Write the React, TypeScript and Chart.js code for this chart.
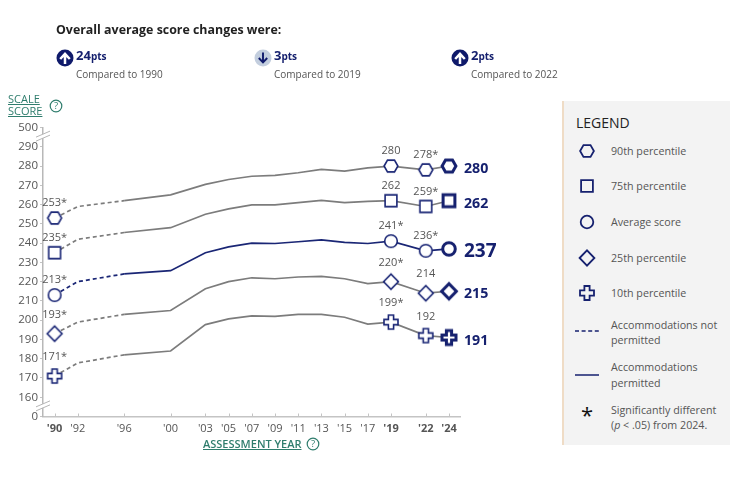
import React, { useEffect, useRef } from "react";
import { Chart, registerables } from "chart.js";

Chart.register(...registerables);

const years = [1990, 1992, 1996, 2000, 2003, 2005, 2007, 2009, 2011, 2013, 2015, 2017, 2019, 2022, 2024];
const yearLabels = ["'90", "'92", "'96", "'00", "'03", "'05", "'07", "'09", "'11", "'13", "'15", "'17", "'19", "'22", "'24"];
const boldYears = [1990, 2019, 2022, 2024];
const markedYears = [1990, 2019, 2022, 2024];

const p90 = [253, 259, 262, 265, 270.5, 273, 274.7, 275.2, 276.5, 278.3, 277.4, 279, 280, 278, 280];
const p75 = [235, 242, 245.5, 248, 255, 257.8, 259.8, 259.8, 261, 262.2, 261, 261.7, 262, 259, 262];
const avg = [213, 220, 224, 225.7, 235, 238, 240, 239.8, 240.7, 241.7, 240.4, 239.8, 241, 236, 237];
const p25 = [193, 199, 203, 205, 216.3, 220, 222, 221.5, 222.4, 222.7, 221.5, 219, 220, 214, 215];
const p10 = [171, 177.8, 182, 184, 197.7, 200.7, 202.2, 202, 203, 203, 201.5, 198, 199, 192, 191];

const labels90 = ["253*", "280", "278*", "280"];
const labels75 = ["235*", "262", "259*", "262"];
const labelsAvg = ["213*", "241*", "236*", "237"];
const labels25 = ["193*", "220*", "214", "215"];
const labels10 = ["171*", "199*", "192", "191"];

const yTickValues = [150, 160, 170, 180, 190, 200, 210, 220, 230, 240, 250, 260, 270, 280, 290, 300];
const yAxisBottomLabel = "0";
const yAxisTopLabel = "500";

const NAVY = "#16216f";
const GREY_LINE = "#7c7c7c";
const AVG_LINE = "#1a2675";
const TEXT = "#555555";
const AXIS = "#c4c4c4";
const GREEN = "#2f7d6d";

const HEX = "M-6.9 0L-3.5 -5.9L3.5 -5.9L6.9 0L3.5 5.9L-3.5 5.9Z";
const SQUARE = "M-5.9 -5.9H5.9V5.9H-5.9Z";
const CIRCLE = "M-6.3 0A6.3 6.3 0 1 1 6.3 0A6.3 6.3 0 1 1 -6.3 0Z";
const DIAMOND = "M-7.4 0L0 -7.6L7.4 0L0 7.6Z";
const PLUS = "M-2.6 -7H2.6V-2.6H7V2.6H2.6V7H-2.6V2.6H-7V-2.6H-2.6Z";

function markerImage(d: string, lineWidth: number, color: string) {
  const c = document.createElement("canvas");
  c.width = 26;
  c.height = 26;
  const g = c.getContext("2d")!;
  g.translate(13, 13);
  const p = new Path2D(d);
  g.fillStyle = "#ffffff";
  g.fill(p);
  g.strokeStyle = color;
  g.lineWidth = lineWidth;
  g.lineJoin = "miter";
  g.stroke(p);
  return c;
}

const seriesDefs = [
  { name: "90th percentile", values: p90, labels: labels90, path: HEX, color: GREY_LINE, above: 15, emph: 14.2 },
  { name: "75th percentile", values: p75, labels: labels75, path: SQUARE, color: GREY_LINE, above: 15, emph: 14.2 },
  { name: "Average score", values: avg, labels: labelsAvg, path: CIRCLE, color: AVG_LINE, above: 15, emph: 19 },
  { name: "25th percentile", values: p25, labels: labels25, path: DIAMOND, color: GREY_LINE, above: 19, emph: 14.2 },
  { name: "10th percentile", values: p10, labels: labels10, path: PLUS, color: GREY_LINE, above: 19, emph: 14.2 },
];

const FONT = '"Open Sans", sans-serif';

const annotate = {
  id: "annotate",
  afterDatasetsDraw(chart: any) {
    const { ctx, scales } = chart;
    const x = scales.x;
    const y = scales.y;
    ctx.save();
    ctx.textAlign = "center";
    ctx.textBaseline = "middle";
    seriesDefs.forEach((s) => {
      markedYears.forEach((yr, i) => {
        const px = x.getPixelForValue(yr);
        const py = y.getPixelForValue(s.values[years.indexOf(yr)]);
        if (yr === 2024) {
          ctx.font = `700 ${s.emph}px ${FONT}`;
          ctx.fillStyle = NAVY;
          ctx.textAlign = "left";
          ctx.fillText(s.labels[i], px + 15, py + 3);
          ctx.textAlign = "center";
        } else {
          ctx.font = `400 11px ${FONT}`;
          ctx.fillStyle = TEXT;
          ctx.fillText(s.labels[i], px, py - s.above);
        }
      });
    });
    ctx.restore();
  },
  afterDraw(chart: any) {
    const { ctx, scales } = chart;
    const y = scales.y;
    const x = y.right;
    const breaks = [(y.getPixelForValue(300) + y.getPixelForValue(290)) / 2 - 1, (y.getPixelForValue(160) + y.getPixelForValue(150)) / 2 - 1];
    ctx.save();
    breaks.forEach((b) => {
      ctx.fillStyle = "#ffffff";
      ctx.fillRect(x - 2, b - 2, 4, 4);
      ctx.strokeStyle = "#b5b5b5";
      ctx.lineWidth = 1;
      [-2, 2].forEach((o) => {
        ctx.beginPath();
        ctx.moveTo(x - 7, b + o + 3);
        ctx.lineTo(x + 7, b + o - 3);
        ctx.stroke();
      });
    });
    // short upward tick marks on the year axis
    const xs = scales.x;
    ctx.strokeStyle = AXIS;
    ctx.lineWidth = 1;
    years.forEach((yr) => {
      const px = Math.round(xs.getPixelForValue(yr)) + 0.5;
      ctx.beginPath();
      ctx.moveTo(px, xs.top);
      ctx.lineTo(px, xs.top - 3);
      ctx.stroke();
    });
    ctx.restore();
  },
};

function Help({ x, y }: { x: number; y: number }) {
  return (
    <svg width={14} height={14} viewBox="0 0 14 14" style={{ position: "absolute", left: x - 7, top: y - 7 }}>
      <circle cx={7} cy={7} r={5.8} fill="none" stroke={GREEN} strokeWidth={1.2} />
      <text x={7} y={10.2} textAnchor="middle" fontSize={9.5} fontFamily={FONT} fill={GREEN}>?</text>
    </svg>
  );
}

function Label({ x, y, size, color, weight, children, extra }: any) {
  return (
    <div
      style={{
        position: "absolute",
        left: x,
        top: y - 10,
        height: 20,
        lineHeight: "20px",
        fontSize: size,
        color,
        fontWeight: weight || 400,
        whiteSpace: "nowrap",
        ...(extra || {}),
      }}
    >
      {children}
    </div>
  );
}

function Change({ x, up, value, label }: { x: number; up: boolean; value: string; label: string }) {
  return (
    <>
      <svg width={18} height={18} viewBox="0 0 18 18" style={{ position: "absolute", left: x - 1, top: 49 }}>
        <circle cx={9} cy={9} r={8.5} fill={up ? "#0f1a6b" : "#c3cede"} />
        {up ? (
          <path d="M9 15V6M4.2 10L9 4.8L13.8 10" fill="none" stroke="#fff" strokeWidth={2.5} />
        ) : (
          <path d="M9 3.5V13M4.8 9L9 13.4L13.2 9" fill="none" stroke="#0f1a6b" strokeWidth={1.9} />
        )}
      </svg>
      <Label x={x + 19} y={55} size={13} color="#15206e" weight={700}>
        {value}
        <span style={{ fontSize: 10 }}>pts</span>
      </Label>
      <Label x={x + 19} y={74} size={10} color={TEXT}>{label}</Label>
    </>
  );
}

const legendRows = [
  { y: 151, path: HEX, text: "90th percentile" },
  { y: 186, path: SQUARE, text: "75th percentile" },
  { y: 222, path: CIRCLE, text: "Average score" },
  { y: 258, path: DIAMOND, text: "25th percentile" },
  { y: 293, path: PLUS, text: "10th percentile" },
];

export default function App() {
  const ref = useRef<HTMLCanvasElement>(null);
  useEffect(() => {
    const light = new Map<string, HTMLCanvasElement>();
    const heavy = new Map<string, HTMLCanvasElement>();
    seriesDefs.forEach((s) => {
      light.set(s.name, markerImage(s.path, 1.6, "#1a2675"));
      heavy.set(s.name, markerImage(s.path, 3, NAVY));
    });
    const chart = new Chart(ref.current!, {
      type: "line",
      data: {
        datasets: seriesDefs.map((s) => ({
          label: s.name,
          data: years.map((yr, i) => ({ x: yr, y: s.values[i] })),
          borderColor: s.color,
          borderWidth: 1.7,
          tension: 0,
          clip: false,
          segment: {
            borderDash: (c: any) => (c.p0.parsed.x < 1996 ? [4, 3] : undefined),
          },
          pointRadius: (c: any) => (markedYears.includes(years[c.dataIndex]) ? 7 : 0),
          pointStyle: (c: any) => (years[c.dataIndex] === 2024 ? heavy.get(s.name) : light.get(s.name)),
        })),
      },
      options: {
        animation: false,
        responsive: false,
        events: [],
        layout: { padding: { top: 127.5, left: 0, right: 269.4, bottom: 40.5 } },
        plugins: { legend: { display: false }, tooltip: { enabled: false }, title: { display: false } },
        scales: {
          x: {
            type: "linear",
            min: 1989,
            max: 2025,
            afterFit: (s: any) => { s.height = 30; },
            afterBuildTicks: (s: any) => { s.ticks = years.map((v) => ({ value: v })); },
            grid: { display: false, drawTicks: false },
            border: { display: true, color: AXIS, width: 1.5 },
            ticks: {
              autoSkip: false,
              maxRotation: 0,
              padding: 6,
              color: TEXT,
              font: (c: any) => ({
                family: FONT,
                size: 11,
                weight: boldYears.includes(c.tick?.value) ? 700 : 400,
              }),
              callback: (v: any) => yearLabels[years.indexOf(v)],
            },
          },
          y: {
            type: "linear",
            min: 150,
            max: 300,
            afterFit: (s: any) => { s.width = 43; },
            afterBuildTicks: (s: any) => { s.ticks = yTickValues.map((v) => ({ value: v })); },
            grid: { drawOnChartArea: false, drawTicks: true, tickLength: 3, color: AXIS },
            border: { display: true, color: "#b8b8b8", width: 1.5 },
            ticks: {
              autoSkip: false,
              padding: 2,
              color: TEXT,
              font: { family: FONT, size: 11.5 },
              callback: (v: any) => (v === 300 ? yAxisTopLabel : v === 150 ? yAxisBottomLabel : String(v)),
            },
          },
        },
      },
      plugins: [annotate],
    } as any);
    return () => chart.destroy();
  }, []);

  return (
    <div style={{ position: "absolute", left: 0, top: 0, width: 730, height: 487, overflow: "hidden", background: "#fff", fontFamily: FONT }}>
      <canvas ref={ref} width={730} height={487} style={{ position: "absolute", left: 0, top: 0, width: 730, height: 487 }} />
      <Label x={56} y={30} size={12.4} color="#222" weight={700}>Overall average score changes were:</Label>
      <Change x={57} up value="24" label="Compared to 1990" />
      <Change x={255} up={false} value="3" label="Compared to 2019" />
      <Change x={452} up value="2" label="Compared to 2022" />

      <div style={{ position: "absolute", left: 8, top: 93, fontSize: 11, lineHeight: "12px", color: GREEN, textDecoration: "underline" }}>
        SCALE<br />SCORE
      </div>
      <Help x={55.5} y={106} />
      <Label x={203} y={444} size={11} color={GREEN} weight={600} extra={{ textDecoration: "underline" }}>ASSESSMENT YEAR</Label>
      <Help x={313} y={444} />

      <div style={{ position: "absolute", left: 562, top: 101, width: 168, height: 344, background: "#f3f3f3", borderLeft: "2px solid #efdcc6", boxSizing: "border-box" }} />
      <Label x={576} y={123} size={14} color="#222" weight={500}>LEGEND</Label>
      {legendRows.map((r) => (
        <React.Fragment key={r.text}>
          <svg width={22} height={22} viewBox="-11 -11 22 22" style={{ position: "absolute", left: 576, top: r.y - 11 }}>
            <path d={r.path} fill="none" stroke={NAVY} strokeWidth={1.8} />
          </svg>
          <Label x={611} y={r.y} size={10.7} color={TEXT}>{r.text}</Label>
        </React.Fragment>
      ))}
      <svg width={26} height={6} style={{ position: "absolute", left: 575, top: 328 }}>
        <line x1={0} x2={24} y1={3} y2={3} stroke={NAVY} strokeWidth={1.5} strokeDasharray="4 2.6" />
      </svg>
      <Label x={611} y={325} size={10.7} color={TEXT}>Accommodations not</Label>
      <Label x={611} y={340} size={10.7} color={TEXT}>permitted</Label>
      <svg width={26} height={6} style={{ position: "absolute", left: 575, top: 372 }}>
        <line x1={0} x2={24} y1={3} y2={3} stroke={NAVY} strokeWidth={1.5} />
      </svg>
      <Label x={611} y={367} size={10.7} color={TEXT}>Accommodations</Label>
      <Label x={611} y={383} size={10.7} color={TEXT}>permitted</Label>
      <Label x={581} y={414} size={22} color="#111">*</Label>
      <Label x={611} y={410} size={10.7} color={TEXT}>Significantly different</Label>
      <Label x={611} y={425} size={10.7} color={TEXT}>(<i>p</i> &lt; .05) from 2024.</Label>
    </div>
  );
}
